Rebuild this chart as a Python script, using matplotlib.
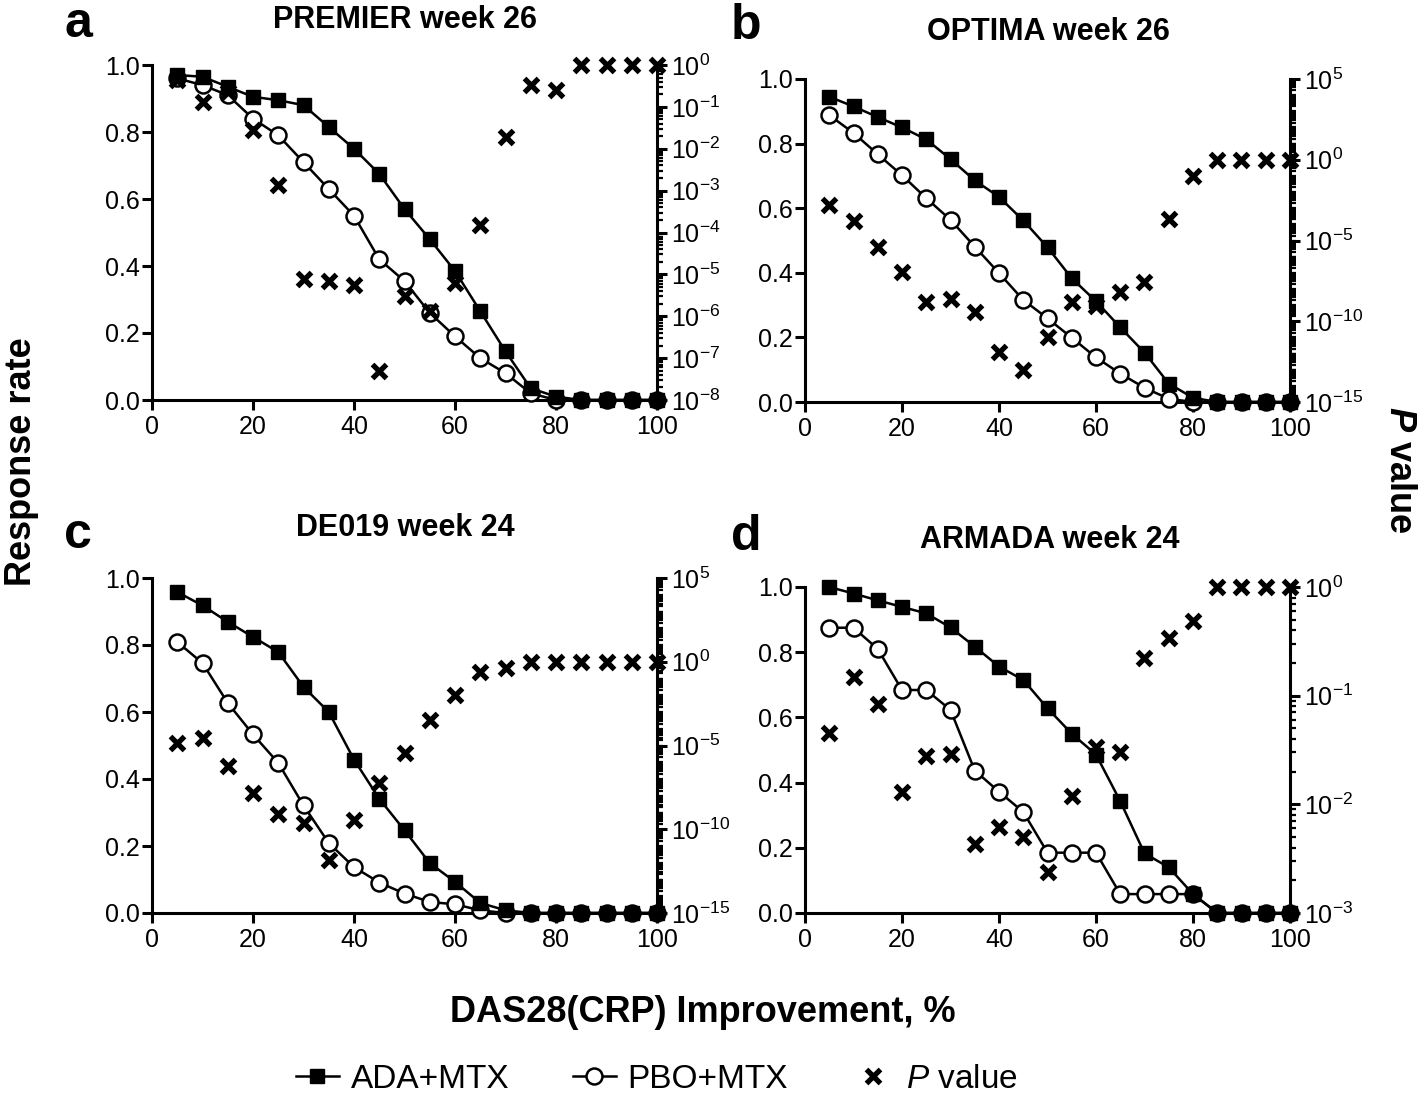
import numpy as np
import matplotlib
matplotlib.use("Agg")
import matplotlib.pyplot as plt
from matplotlib.ticker import FixedLocator, FuncFormatter, LogLocator, NullFormatter
from matplotlib.lines import Line2D

# --- DATA ---
improvement = [5, 10, 15, 20, 25, 30, 35, 40, 45, 50, 55, 60, 65, 70, 75, 80, 85, 90, 95, 100]

# a: PREMIER week 26
ada_a = [0.97, 0.965, 0.935, 0.905, 0.895, 0.88, 0.815, 0.75, 0.675, 0.57, 0.48, 0.385, 0.265, 0.145, 0.035, 0.01, 0, 0, 0, 0]
pbo_a = [0.96, 0.94, 0.91, 0.84, 0.79, 0.71, 0.63, 0.55, 0.42, 0.355, 0.26, 0.19, 0.125, 0.08, 0.02, 0.0, 0, 0, 0, 0]
p_a = [0.44, 0.13, 0.23, 0.028, 1.4e-3, 7.6e-6, 6.9e-6, 5.5e-6, 5e-8, 3e-6, 1.3e-6, 6.3e-6,
       1.5e-4, 0.019, 0.33, 0.25, 1, 1, 1, 1]

# b: OPTIMA week 26
ada_b = [0.945, 0.915, 0.882, 0.85, 0.813, 0.752, 0.686, 0.635, 0.562, 0.479, 0.383, 0.312, 0.231, 0.153, 0.057, 0.013, 0, 0, 0, 0]
pbo_b = [0.888, 0.833, 0.767, 0.702, 0.631, 0.564, 0.481, 0.399, 0.316, 0.259, 0.199, 0.138, 0.088, 0.044, 0.01, 0, 0, 0, 0, 0]
p_b = [1.5e-3, 1.7e-4, 3.9e-6, 1.1e-7, 1.6e-9, 2.4e-9, 3.5e-10, 1.2e-12, 9.8e-14, 1e-11, 1.5e-9, 9e-10,
       6.2e-9, 2.6e-8, 2.2e-4, 9.5e-2, 1, 1, 1, 1]

# c: DE019 week 24
ada_c = [0.958, 0.918, 0.869, 0.824, 0.779, 0.675, 0.6, 0.458, 0.341, 0.247, 0.149, 0.093, 0.03, 0.008, 0, 0, 0, 0, 0, 0]
pbo_c = [0.809, 0.746, 0.627, 0.533, 0.448, 0.321, 0.209, 0.137, 0.091, 0.058, 0.033, 0.026, 0.008, 0, 0, 0, 0, 0, 0, 0]
p_c = [1.4e-5, 2.8e-5, 5.8e-7, 1.5e-8, 8.5e-10, 2.3e-10, 1.5e-12, 3.4e-10, 5.8e-8, 3.5e-6, 3.2e-4, 1.1e-2,
       0.24, 0.44, 1, 1, 1, 1, 1, 1]

# d: ARMADA week 24
ada_d = [1.0, 0.98, 0.959, 0.939, 0.919, 0.876, 0.817, 0.756, 0.715, 0.628, 0.55, 0.486, 0.343, 0.183, 0.14, 0.058, 0, 0, 0, 0]
pbo_d = [0.875, 0.875, 0.81, 0.684, 0.684, 0.623, 0.437, 0.372, 0.31, 0.185, 0.185, 0.185, 0.058, 0.058, 0.058, 0.058, 0, 0, 0, 0]
p_d = [0.045, 0.148, 0.084, 0.013, 0.028, 0.029, 0.0043, 0.0062, 0.005, 0.0024, 0.012, 0.034,
       0.03, 0.22, 0.34, 0.49, 1, 1, 1, 1]

panels = [
    ("a", "PREMIER week 26", ada_a, pbo_a, p_a, (1e-8, 1e0), [10.0 ** e for e in range(-8, 1)]),
    ("b", "OPTIMA week 26", ada_b, pbo_b, p_b, (1e-15, 1e5), [10.0 ** e for e in range(-15, 6, 5)]),
    ("c", "DE019 week 24", ada_c, pbo_c, p_c, (1e-15, 1e5), [10.0 ** e for e in range(-15, 6, 5)]),
    ("d", "ARMADA week 24", ada_d, pbo_d, p_d, (1e-3, 1e0), [10.0 ** e for e in range(-3, 1)]),
]

# --- STYLE ---
plt.rcParams['font.family'] = ['Liberation Sans', 'DejaVu Sans']
plt.rcParams['mathtext.fontset'] = 'custom'
plt.rcParams['mathtext.rm'] = 'Liberation Sans'
plt.rcParams['mathtext.it'] = 'Liberation Sans:italic'
plt.rcParams['mathtext.bf'] = 'Liberation Sans:bold'
plt.rcParams['mathtext.bfit'] = 'Liberation Sans:italic:bold'

W, H = 1418, 1094
fig = plt.figure(figsize=(W / 100, H / 100), dpi=100)

# axes boxes in pixels: left, top, right, bottom
boxes = [(152, 65, 657, 400), (805, 79, 1290, 402), (152, 578, 657, 913), (805, 587, 1290, 913)]
titles_xy = [(405, 28), (1048, 40), (405, 536), (1050, 548)]
letters_xy = [(64, 37), (731, 39), (64, 548), (731, 550)]

SPINE_W = 2.2
LINE_W = 1.8
TICK_FS = 18

for (letter, title, ada, pbo, pv, plim, majors), (l, t, r, b), (tx, ty), (lx, ly) in zip(
        panels, boxes, titles_xy, letters_xy):
    ax = fig.add_axes([l / W, 1 - b / H, (r - l) / W, (b - t) / H])
    ax.plot(improvement, pbo, '-o', color='black', lw=LINE_W, ms=11.5, mfc='white',
            mec='black', mew=1.8, clip_on=False, zorder=3)
    ax.plot(improvement, ada, '-s', color='black', lw=LINE_W, ms=9.5, mfc='black',
            mec='black', clip_on=False, zorder=4)
    ax.set_xlim(0, 100)
    ax.set_ylim(0, 1.0)
    ax.set_xticks([0, 20, 40, 60, 80, 100])
    ax.set_yticks([0.0, 0.2, 0.4, 0.6, 0.8, 1.0])
    ax.yaxis.set_major_formatter(FuncFormatter(lambda v, _: f"{v:.1f}"))
    for s in ['top', 'right']:
        ax.spines[s].set_visible(False)
    for s in ['left', 'bottom']:
        ax.spines[s].set_linewidth(SPINE_W)
    ax.tick_params(axis='both', direction='out', length=7, width=SPINE_W, labelsize=TICK_FS, pad=2)
    ax.tick_params(axis='x', pad=4)

    ax2 = ax.twinx()
    ax2.set_yscale('log')
    ax2.plot(improvement, pv, linestyle='none', marker='x', color='black', ms=10.5, mew=3.8,
             clip_on=False, zorder=5)
    ax2.set_ylim(*plim)
    ax2.yaxis.set_major_locator(FixedLocator(majors))
    ax2.yaxis.set_major_formatter(FuncFormatter(lambda v, _: r"$10^{%d}$" % round(np.log10(v))))
    if letter in ("b", "c"):
        ax2.yaxis.set_minor_locator(LogLocator(base=10, subs=np.arange(1, 10), numticks=200))
    else:
        ax2.yaxis.set_minor_locator(LogLocator(base=10, subs=np.arange(2, 10), numticks=200))
    ax2.yaxis.set_minor_formatter(NullFormatter())
    for s in ['top', 'left', 'bottom']:
        ax2.spines[s].set_visible(False)
    ax2.spines['right'].set_linewidth(SPINE_W)
    ax2.tick_params(axis='y', which='major', direction='out', length=7, width=SPINE_W,
                    labelsize=TICK_FS, pad=3)
    ax2.tick_params(axis='y', which='minor', direction='out', length=4, width=1.6)

    fig.text(tx / W, 1 - ty / H, title, ha='center', va='baseline', fontsize=22, fontweight='bold')
    fig.text(lx / W, 1 - ly / H, letter, ha='left', va='baseline', fontsize=36, fontweight='bold')

# shared axis labels
fig.text(22 / W, 1 - 462 / H, "Response rate", rotation=90, ha='center', va='center',
         fontsize=26, fontweight='bold')
fig.text(1400 / W, 1 - 470 / H, r"$\mathbfit{P}$ value", rotation=270, ha='center', va='center',
         fontsize=26, fontweight='bold')
fig.text(703 / W, 1 - 1013 / H, "DAS28(CRP) Improvement, %", ha='center', va='center',
         fontsize=26, fontweight='bold')

# legend
handles = [
    Line2D([], [], color='black', lw=LINE_W, marker='s', ms=9.5, mfc='black'),
    Line2D([], [], color='black', lw=LINE_W, marker='o', ms=11.5, mfc='white', mew=1.8),
    Line2D([], [], color='black', ls='none', marker='x', ms=10.5, mew=3.8),
]
fig.legend(handles, ["ADA+MTX", "PBO+MTX", r"$\mathit{P}$ value"], loc='center',
           bbox_to_anchor=(657 / W, 1 - 1079 / H), ncol=3, frameon=False, fontsize=24,
           handlelength=1.3, columnspacing=1.9, handletextpad=0.35)

fig.savefig("out.png", dpi=100)
